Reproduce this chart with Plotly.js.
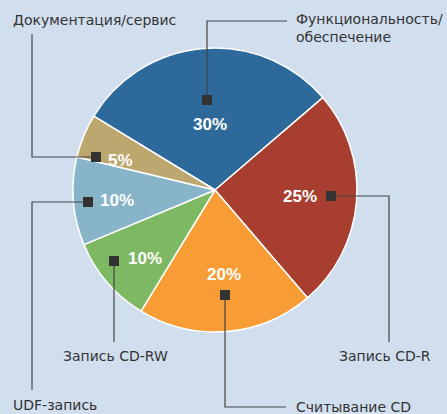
<!DOCTYPE html>
<html>
<head>
<meta charset="utf-8">
<script src="https://cdn.plot.ly/plotly-3.0.1.min.js"></script>
<style>html,body{margin:0;padding:0;background:#d1deed;}#chart{width:447px;height:414px;}</style>
</head>
<body>
<div id="chart"></div>
<script>
// ---- data ----
var categories = ["Функциональность/<br>обеспечение", "Запись CD-R", "Считывание CD", "Запись CD-RW", "UDF-запись", "Документация/сервис"];
var values = [30, 25, 20, 10, 10, 5];
var colors = ["#2d6a9b", "#a83e2f", "#f89d35", "#7db863", "#87b4c9", "#bca86f"];

// ---- layout helpers (pixel positions of annotations / leaders) ----
var W = 447, H = 414;
var cx = 215, cy = 190, R = 142;
function px(x){ return x / W; }
function py(y){ return 1 - y / H; }

var pctPos = [[210,124],[300,196],[224,274],[145,258],[117,201],[121,161]];
var markerPos = [[207,100],[331,196],[225,295],[114,261],[88,202],[96,157]];
var leaderPaths = [
  [[207,100],[207,21],[287,21]],
  [[331,196],[389,196],[389,342]],
  [[225,295],[225,407],[286,407]],
  [[114,261],[114,342]],
  [[88,202],[32,202],[32,390]],
  [[96,157],[32,157],[32,34]]
];
var labelPos = [[297,10,'left','top'],[385,356,'center','middle'],[297,407,'left','middle'],[116,356,'center','middle'],[14,405,'left','middle'],[14,20,'left','middle']];

var shapes = [], annotations = [];
leaderPaths.forEach(function(p){
  var d = 'M' + p.map(function(q){ return px(q[0]) + ',' + py(q[1]); }).join(' L');
  shapes.push({type:'path', xref:'paper', yref:'paper', path:d, line:{color:'#444', width:1.2}});
});
markerPos.forEach(function(m){
  shapes.push({type:'rect', xref:'paper', yref:'paper', x0:px(m[0]-5), x1:px(m[0]+5), y0:py(m[1]+5), y1:py(m[1]-5), fillcolor:'#333', line:{width:0}});
});
values.forEach(function(v,i){
  annotations.push({xref:'paper', yref:'paper', x:px(pctPos[i][0]), y:py(pctPos[i][1]), text:'<b>'+v+'%</b>', showarrow:false, xanchor:'center', yanchor:'middle', font:{family:'Liberation Sans, Arial, sans-serif', size:17, color:'#ffffff'}});
});
categories.forEach(function(c,i){
  var l = labelPos[i];
  annotations.push({xref:'paper', yref:'paper', x:px(l[0]), y:py(l[1]), text:c, showarrow:false, xanchor:l[2], yanchor:l[3], align:'left', xshift: l[2]==='left'?-2:0, borderpad:0, font:{family:'DejaVu Sans, sans-serif', size:14, color:'#333333'}});
});

var data = [{
  type:'pie',
  labels:categories,
  values:values,
  sort:false,
  direction:'clockwise',
  rotation:-58.6,
  marker:{colors:colors, line:{color:'#ffffff', width:1.5}},
  textinfo:'none',
  hoverinfo:'label+percent',
  domain:{x:[px(cx-R), px(cx+R)], y:[py(cy+R), py(cy-R)]}
}];

var layout = {
  width:W, height:H,
  margin:{l:0,r:0,t:0,b:0},
  paper_bgcolor:'#d1deed',
  plot_bgcolor:'#d1deed',
  showlegend:false,
  shapes:shapes,
  annotations:annotations
};
Plotly.newPlot('chart', data, layout, {displayModeBar:false, staticPlot:true});
</script>
</body>
</html>
